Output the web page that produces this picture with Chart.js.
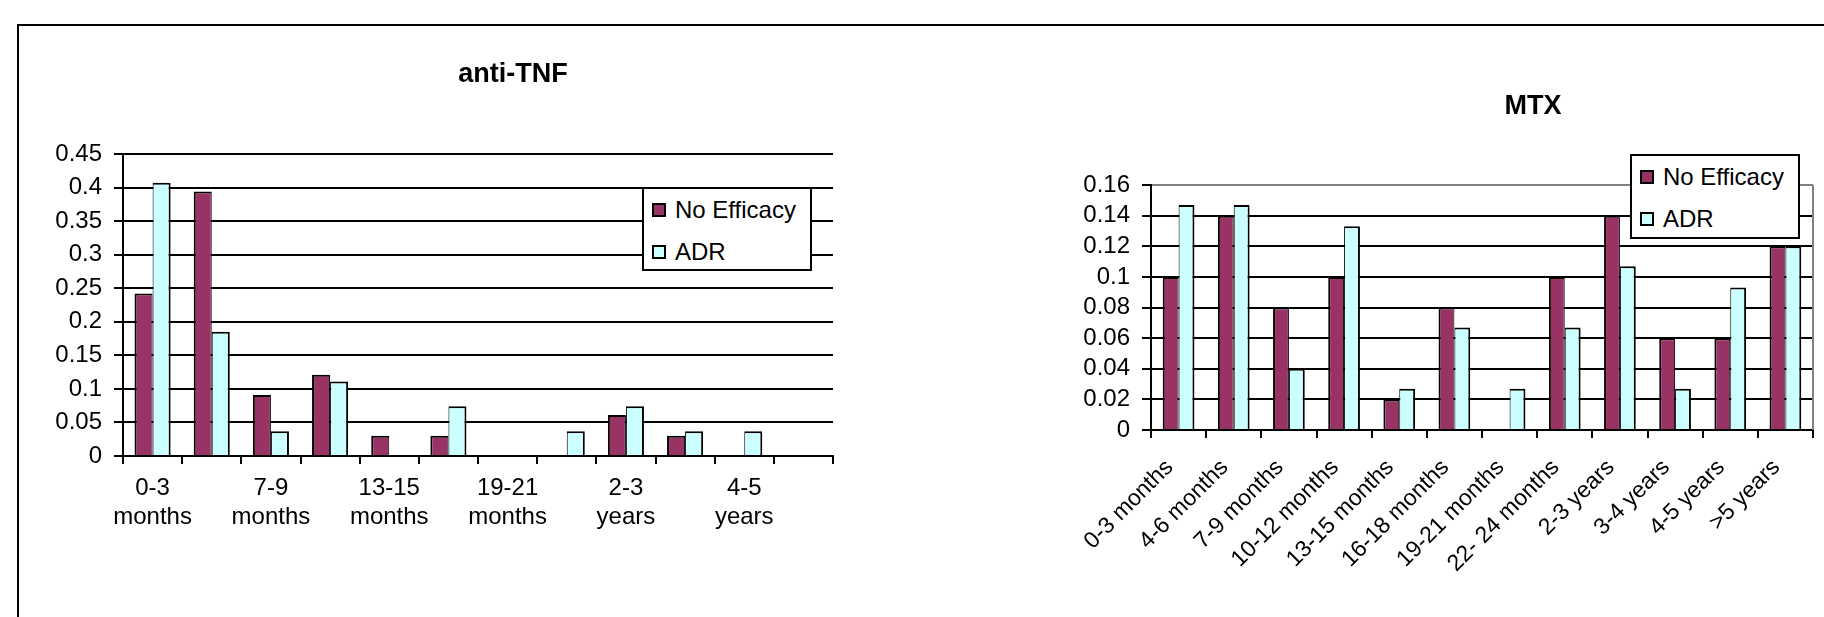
<!DOCTYPE html>
<html lang="en">
<head>
  <meta charset="UTF-8">
  <title>anti-TNF / MTX</title>
  <script src="https://cdn.jsdelivr.net/npm/chart.js"></script>
  <style>
    html, body { margin: 0; padding: 0; background: #fff; overflow: hidden; }
    body { width: 1824px; height: 617px; position: relative; font-family: "Liberation Sans", Arial, sans-serif; }
    .frame { position: absolute; left: 17px; top: 24px; width: 1820px; height: 600px; border-top: 2px solid #000; border-left: 2px solid #000; }
    canvas { position: absolute; top: 0; }
    #chartTnf { left: 0; }
    #chartMtx { left: 900px; }
    .title { position: absolute; width: 400px; text-align: center; font-weight: bold; font-size: 27px; line-height: 27px; color: #000; }
    .legend { position: absolute; box-sizing: border-box; width: 170px; height: 84px; border: 2px solid #000; background: #fff; padding-left: 8px; }
    .legend .item { height: 42px; display: flex; align-items: center; font-size: 24px; color: #000; }
    .legend .box { width: 14px; height: 14px; box-sizing: border-box; border: 2px solid #000; margin-right: 9px; }
  </style>
</head>
<body>

  <div class="frame"></div>

  <canvas id="chartTnf" width="900" height="617"></canvas>
  <canvas id="chartMtx" width="924" height="617"></canvas>

  <div class="title" style="left: 313px; top: 60px;">anti-TNF</div>
  <div class="title" style="left: 1333px; top: 92px;">MTX</div>

  <div class="legend" id="legendTnf" style="left: 642px; top: 187px;"></div>
  <div class="legend" id="legendMtx" style="left: 1630px; top: 154px; height: 85px;"></div>

  <script>
    // categories (same for both charts)
    const categories = ['0-3 months', '4-6 months', '7-9 months', '10-12 months', '13-15 months', '16-18 months',
                        '19-21 months', '22- 24 months', '2-3 years', '3-4 years', '4-5 years', '>5 years'];

    // anti-TNF
    const antiTnfNoEfficacy = [0.242, 0.394, 0.091, 0.121, 0.030, 0.030, 0, 0, 0.061, 0.030, 0, 0];
    const antiTnfAdr        = [0.407, 0.185, 0.037, 0.111, 0, 0.074, 0, 0.037, 0.074, 0.037, 0.037, 0];
    const antiTnfYTicks     = [0, 0.05, 0.1, 0.15, 0.2, 0.25, 0.3, 0.35, 0.4, 0.45];

    // MTX
    const mtxNoEfficacy = [0.10, 0.14, 0.08, 0.10, 0.02, 0.08, 0, 0.10, 0.14, 0.06, 0.06, 0.12];
    const mtxAdr        = [0.147, 0.147, 0.040, 0.133, 0.027, 0.067, 0.027, 0.067, 0.107, 0.027, 0.093, 0.120];
    const mtxYTicks     = [0, 0.02, 0.04, 0.06, 0.08, 0.1, 0.12, 0.14, 0.16];

    const seriesNames = ['No Efficacy', 'ADR'];
    const seriesColors = ['#993366', '#CCFFFF'];

    const fontFamily = '"Liberation Sans", Arial, sans-serif';

    function datasets(noEff, adr, pct) {
      return [
        { label: seriesNames[0], data: noEff, backgroundColor: seriesColors[0], borderColor: '#000',
          borderWidth: { top: 2, left: 2, right: 1, bottom: 0 }, categoryPercentage: pct, barPercentage: 1 },
        { label: seriesNames[1], data: adr, backgroundColor: seriesColors[1], borderColor: '#000',
          borderWidth: { top: 2, left: 1, right: 2, bottom: 0 }, categoryPercentage: pct, barPercentage: 1 }
      ];
    }

    function options(yTicks, yWidth, xHeight, padding, xTicks, gridColor) {
      return {
        responsive: false,
        animation: false,
        layout: { padding: padding },
        plugins: { legend: { display: false }, title: { display: false }, tooltip: { enabled: false } },
        scales: {
          x: {
            offset: true,
            grid: { offset: true, drawOnChartArea: false, tickLength: 8, color: '#000', lineWidth: 2 },
            border: { color: '#000', width: 2 },
            ticks: Object.assign({ color: '#000', autoSkip: false, font: { family: fontFamily, size: 24 } }, xTicks),
            afterFit: s => { s.height = xHeight; }
          },
          y: {
            min: yTicks[0],
            max: yTicks[yTicks.length - 1],
            afterBuildTicks: s => { s.ticks = yTicks.map(v => ({ value: v })); },
            grid: { color: gridColor, tickColor: '#000', lineWidth: 2, tickLength: 9 },
            border: { color: '#000', width: 2 },
            ticks: { color: '#000', autoSkip: false, padding: 12, font: { family: fontFamily, size: 24 },
                     callback: v => String(v) },
            afterFit: s => { s.width = yWidth; }
          }
        }
      };
    }

    // gray plot-area edge on the right (MTX)
    const plotBorder = {
      id: 'plotBorder',
      beforeDatasetsDraw(chart) {
        const { ctx, chartArea: a } = chart;
        ctx.save();
        ctx.strokeStyle = '#808080';
        ctx.lineWidth = 2;
        ctx.beginPath();
        ctx.moveTo(a.right, a.top);
        ctx.lineTo(a.right, a.bottom);
        ctx.stroke();
        ctx.restore();
      }
    };

    function twoLines(label) {
      const k = label.indexOf(' ');
      return [label.slice(0, k), label.slice(k + 1)];
    }

    const chartTnf = new Chart(document.getElementById('chartTnf'), {
      type: 'bar',
      data: { labels: categories, datasets: datasets(antiTnfNoEfficacy, antiTnfAdr, 0.61) },
      options: options(antiTnfYTicks, 123, 161, { left: 0, top: 154, right: 67, bottom: 0 },
        { maxRotation: 0, minRotation: 0, padding: 10, callback: (v, i) => (i % 2 ? '' : twoLines(categories[i])) },
        '#000')
    });

    // rotated labels sit a little left of the category centre, trailing spaces push them over
    const chartMtx = new Chart(document.getElementById('chartMtx'), {
      type: 'bar',
      data: { labels: categories, datasets: datasets(mtxNoEfficacy, mtxAdr, 0.575) },
      options: options(mtxYTicks, 251, 187, { left: 0, top: 185, right: 11, bottom: 0 },
        { maxRotation: 45, minRotation: 45, padding: 7, font: { family: fontFamily, size: 23 },
          callback: (v, i) => categories[i] + '  ' },
        c => (c.index === mtxYTicks.length - 1 ? '#808080' : '#000')),
      plugins: [plotBorder]
    });

    // legends built from the datasets
    function buildLegend(id, chart) {
      const el = document.getElementById(id);
      chart.data.datasets.forEach(ds => {
        const item = document.createElement('div');
        item.className = 'item';
        const box = document.createElement('span');
        box.className = 'box';
        box.style.background = ds.backgroundColor;
        item.appendChild(box);
        item.appendChild(document.createTextNode(ds.label));
        el.appendChild(item);
      });
    }
    buildLegend('legendTnf', chartTnf);
    buildLegend('legendMtx', chartMtx);
  </script>

</body>
</html>
